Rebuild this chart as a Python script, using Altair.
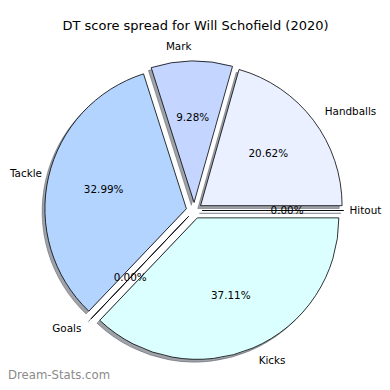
import altair as alt
import pandas as pd

# ---- data ----
categories = ["Handballs", "Mark", "Tackle", "Goals", "Kicks", "Hitout"]
values = [20.62, 9.28, 32.99, 0.0, 37.11, 0.0]
colors = ["#eaf0ff", "#c4d6ff", "#b3d4ff", "#ffd8d8", "#dbffff", "#e8e8e8"]
title_text = ["DT score spread for Will Schofield (2020)"]
watermark_text = ["Dream-Stats.com"]

# ---- geometry (pixels in the view) ----
CX, CY = 186.2, 202.5
R = 141.5
EXP = 8.0
SH = 2.8
W = H = 374

df = pd.DataFrame({"category": categories, "value": values,
                   "order": list(range(len(categories)))})

base = (
    alt.Chart(df)
    .transform_window(cum="sum(value)", sort=[alt.SortField(field="order", order="ascending")],
                      frame=[None, 0])
    .transform_joinaggregate(total="sum(value)")
    .transform_calculate(a1="2*PI*datum.cum/datum.total")
    .transform_calculate(a0="2*PI*(datum.cum-datum.value)/datum.total")
    .transform_calculate(am="(datum.a0+datum.a1)/2")
    .transform_calculate(t0="2.5*PI-datum.a0")
    .transform_calculate(t1="2.5*PI-datum.a1")
    .transform_calculate(ox=f"{CX}+{EXP}*cos(datum.am)")
    .transform_calculate(oy=f"{CY}-{EXP}*sin(datum.am)")
    .transform_calculate(sx=f"datum.ox-{SH}")
    .transform_calculate(sy=f"datum.oy+{SH}")
    .transform_calculate(px=f"datum.ox+{0.6*R}*cos(datum.am)")
    .transform_calculate(py=f"datum.oy-{0.6*R}*sin(datum.am)")
    .transform_calculate(lx=f"datum.ox+{1.1*R}*cos(datum.am)")
    .transform_calculate(lxr="max(datum.lx, 34)")
    .transform_calculate(lxl="min(datum.lx, 341.5)")
    .transform_calculate(ly=f"datum.oy-{1.1*R}*sin(datum.am)")
    .transform_calculate(pct="format(datum.value/datum.total*100,'.2f')+'%'")
)

def pos(xf, yf):
    return dict(
        x=alt.X(f"{xf}:Q", scale=None, axis=None),
        y=alt.Y(f"{yf}:Q", scale=None, axis=None),
    )

theta_enc = dict(
    theta=alt.Theta("t0:Q", scale=None, stack=None),
    theta2=alt.Theta2("t1:Q"),
)

shadow = base.mark_arc(
    radius=R, fill="#2b3340", fillOpacity=0.45,
    stroke="#2b3340", strokeOpacity=0.45, strokeWidth=0.8
).encode(**pos("sx", "sy"), **theta_enc)

wedges = base.mark_arc(radius=R, stroke="black", strokeWidth=0.8).encode(
    **pos("ox", "oy"), **theta_enc,
    color=alt.Color("category:N", scale=alt.Scale(domain=categories, range=colors), legend=None),
)

FONT = "DejaVu Sans"
pct = base.mark_text(font=FONT, fontSize=10.4, color="black").encode(
    **pos("px", "py"), text="pct:N")

lab_left = base.transform_filter("cos(datum.am) > 0").mark_text(
    font=FONT, fontSize=10.4, color="black", align="left").encode(
    **pos("lxl", "ly"), text="category:N")
lab_right = base.transform_filter("cos(datum.am) <= 0").mark_text(
    font=FONT, fontSize=10.4, color="black", align="right").encode(
    **pos("lxr", "ly"), text="category:N")

title = alt.Chart(pd.DataFrame({"t": title_text})).mark_text(
    font=FONT, fontSize=13, color="black").encode(
    x=alt.value(187.5), y=alt.value(17.5), text="t:N")

watermark = alt.Chart(pd.DataFrame({"t": watermark_text})).mark_text(
    font=FONT, fontSize=11.7, color="#8a8a8a", align="left").encode(
    x=alt.value(0), y=alt.value(366.5), text="t:N")

chart = alt.layer(shadow, wedges, pct, lab_left, lab_right, title, watermark).properties(
    width=W, height=H,
    autosize=alt.AutoSizeParams(type="none"),
    padding=0,
).configure_view(stroke=None)

chart.save("out.html", embed_options={"renderer": "svg", "actions": False})
